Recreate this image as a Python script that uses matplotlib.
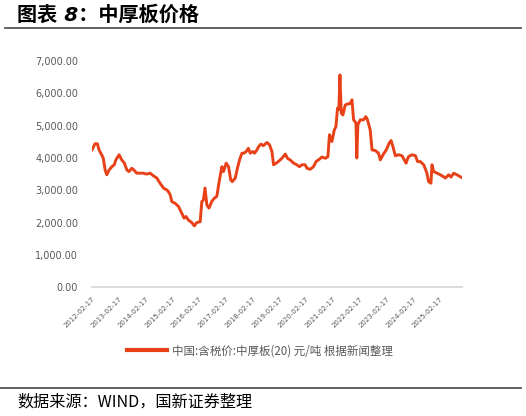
import matplotlib
matplotlib.use("Agg")
import matplotlib.pyplot as plt
from matplotlib.lines import Line2D
import pandas as pd
import numpy as np

plt.rcParams['font.family'] = ['Noto Sans CJK SC', 'DejaVu Sans']

# decimal-year time stamps and prices (元/吨)
years = [2012.13, 2012.24, 2012.33, 2012.39, 2012.49, 2012.55, 2012.62, 2012.68, 2012.77, 2012.87,
         2012.96, 2013.02, 2013.14, 2013.24, 2013.34, 2013.43, 2013.51, 2013.61, 2013.67, 2013.80,
         2013.92, 2014.05, 2014.17, 2014.30, 2014.42, 2014.55, 2014.67, 2014.80, 2014.96, 2015.05,
         2015.11, 2015.23, 2015.36, 2015.48, 2015.57, 2015.64, 2015.73, 2015.86, 2015.95, 2016.04,
         2016.17, 2016.23, 2016.29, 2016.35, 2016.42, 2016.50, 2016.60, 2016.69, 2016.79, 2016.89,
         2016.98, 2017.04, 2017.14, 2017.23, 2017.31, 2017.37, 2017.48, 2017.56, 2017.64, 2017.73,
         2017.81, 2017.89, 2017.97, 2018.04, 2018.14, 2018.20, 2018.29, 2018.35, 2018.44, 2018.53,
         2018.66, 2018.76, 2018.85, 2018.91, 2019.01, 2019.09, 2019.22, 2019.35, 2019.43, 2019.53,
         2019.66, 2019.78, 2019.88, 2019.97, 2020.09, 2020.16, 2020.28, 2020.40, 2020.50, 2020.62,
         2020.72, 2020.84, 2020.94, 2021.00, 2021.09, 2021.18, 2021.24, 2021.30, 2021.35, 2021.39,
         2021.44, 2021.50, 2021.59, 2021.67, 2021.77, 2021.84, 2021.90, 2021.99, 2022.02, 2022.06,
         2022.15, 2022.27, 2022.36, 2022.42, 2022.52, 2022.59, 2022.71, 2022.83, 2022.90, 2023.00,
         2023.12, 2023.23, 2023.30, 2023.37, 2023.46, 2023.58, 2023.71, 2023.86, 2023.95, 2024.08,
         2024.21, 2024.29, 2024.39, 2024.52, 2024.64, 2024.70, 2024.79, 2024.83, 2024.89, 2025.02,
         2025.14, 2025.26, 2025.33, 2025.45, 2025.54, 2025.64, 2025.76, 2025.95]
prices = [4250, 4440, 4440, 4250, 4100, 3990, 3630, 3480, 3630, 3730,
          3790, 3940, 4100, 3940, 3840, 3630, 3580, 3680, 3650, 3530,
          3530, 3530, 3500, 3530, 3450, 3380, 3220, 3070, 2990, 2860,
          2650, 2600, 2500, 2290, 2140, 2190, 2080, 2000, 1900, 2000,
          2030, 2650, 2700, 3070, 2550, 2450, 2650, 2750, 2810, 3320,
          3730, 3580, 3840, 3730, 3320, 3270, 3380, 3680, 3940, 4150,
          4150, 4200, 4300, 4150, 4200, 4150, 4250, 4350, 4430, 4380,
          4480, 4410, 4200, 3790, 3840, 3890, 3990, 4120, 3990, 3940,
          3840, 3790, 3730, 3790, 3790, 3680, 3650, 3730, 3890, 3960,
          4030, 3990, 4040, 4720, 4510, 4870, 4970, 5540, 5500, 6570,
          5390, 5330, 5640, 5670, 5680, 5800, 5180, 5080, 4000, 5030,
          5180, 5180, 5280, 5180, 4870, 4250, 4230, 4150, 3940, 4100,
          4250, 4460, 4540, 4350, 4070, 4100, 4070, 3840, 4040, 4100,
          4070, 3890, 3890, 3790, 3530, 3270, 3220, 3790, 3580, 3530,
          3480, 3420, 3380, 3480, 3410, 3530, 3480, 3390]

tick_labels = ['2012-02-17', '2013-02-17', '2014-02-17', '2015-02-17', '2016-02-17',
               '2017-02-17', '2018-02-17', '2019-02-17', '2020-02-17', '2021-02-17',
               '2022-02-17', '2023-02-17', '2024-02-17', '2025-02-17']
y_ticks = [0, 1000, 2000, 3000, 4000, 5000, 6000, 7000]

series_name = '中国:含税价:中厚板(20) 元/吨 根据新闻整理'
title = '图表 8：中厚板价格'
source = '数据来源：WIND，国新证券整理'

yr = np.array(years)
base = pd.Timestamp('2012-01-01')
dates = [base + pd.Timedelta(days=float((y - 2012) * 365.25)) for y in yr]

W, H = 526, 416
fig = plt.figure(figsize=(W / 100, H / 100), dpi=100)
ax = fig.add_axes([92 / W, (H - 287.3) / H, 370 / W, (287.3 - 61) / H])

line_color = '#E84118'
ax.plot(dates, prices, color=line_color, lw=2.1, solid_joinstyle='round')

ax.set_ylim(0, 7000)
ax.set_yticks(y_ticks)
ax.set_yticklabels([f'{v:,.2f}' for v in y_ticks], family=['DejaVu Sans'], fontsize=7, color='#595959')

tick_dates = [pd.Timestamp(t) for t in tick_labels]
ax.set_xticks(tick_dates)
ax.set_xticklabels(tick_labels, rotation=45, ha='right', va='top', rotation_mode='anchor',
                   family=['DejaVu Sans'], fontsize=5.0, color='#595959')
ax.set_xlim(pd.Timestamp('2012-02-17'), dates[-1])
ax.tick_params(axis='both', length=0)
ax.tick_params(axis='y', pad=10)
ax.tick_params(axis='x', pad=6)

for s in ['top', 'right', 'left']:
    ax.spines[s].set_visible(False)
ax.spines['bottom'].set_color('#D9D9D9')
ax.spines['bottom'].set_linewidth(1.3)

handle = Line2D([], [], color=line_color, lw=3)
fig.legend([handle], [series_name], loc='center', bbox_to_anchor=(260 / W, (H - 351) / H),
           frameon=False, handlelength=3.5, handletextpad=0.45,
           prop={'family': ['Noto Sans CJK SC'], 'size': 8.3}, labelcolor='#595959')

# title and source
fig.text(17 / W, 1 - 15 / H, title, fontsize=14.5, fontweight='bold', style='italic',
         family=['DejaVu Sans', 'Noto Sans CJK SC'], ha='left', va='center', color='black')
fig.add_artist(Line2D([5 / W, 521 / W], [1 - 28.3 / H, 1 - 28.3 / H], color='#555555', lw=1.3))
fig.add_artist(Line2D([0, 521 / W], [1 - 387.7 / H, 1 - 387.7 / H], color='#555555', lw=1.3))
fig.text(17 / W, 1 - 401.7 / H, source, fontsize=11.6, family=['Noto Sans CJK SC', 'DejaVu Sans'],
         ha='left', va='center', color='black')

fig.savefig('out.png', dpi=100)
